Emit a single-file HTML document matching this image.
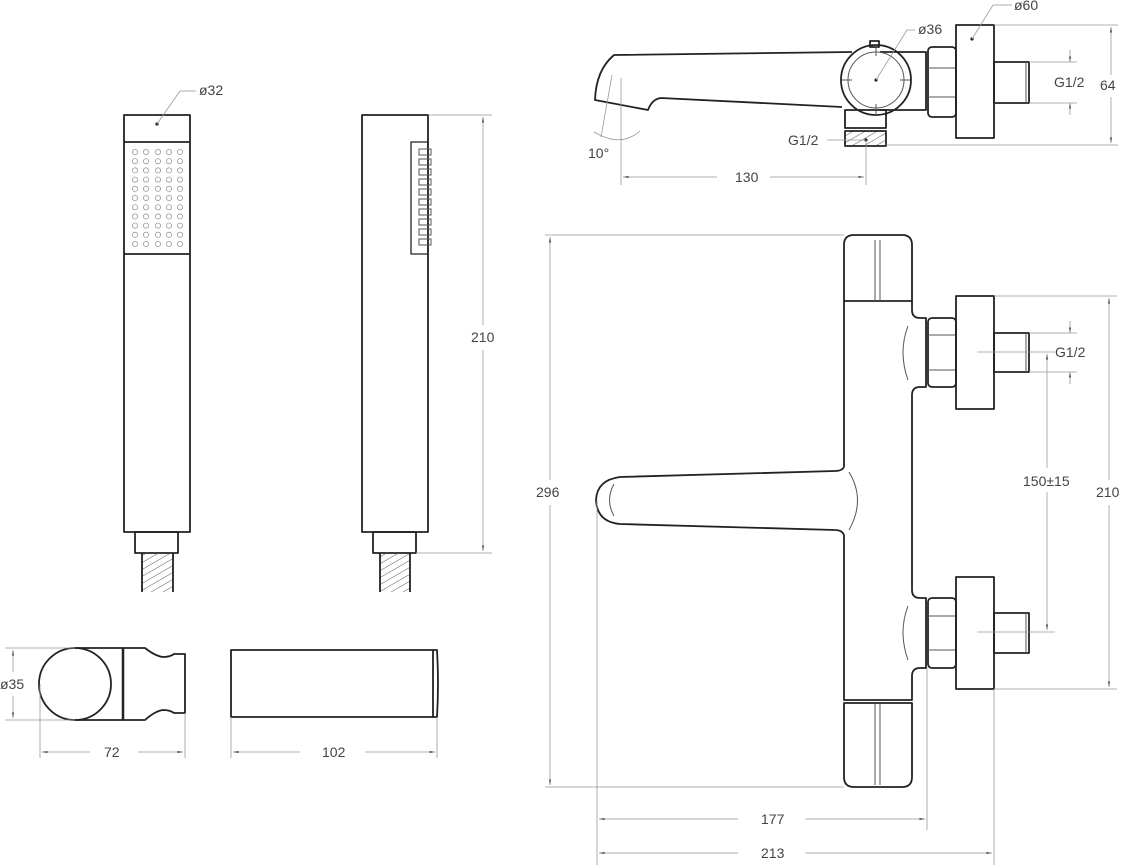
<!DOCTYPE html>
<html><head><meta charset="utf-8"><style>
html,body{margin:0;padding:0;background:#fff}
svg{display:block}
text{font-family:"Liberation Sans",sans-serif;font-size:14px;fill:#444}
.m{fill:none;stroke:#222;stroke-width:1.8;stroke-linejoin:round}
.t{fill:none;stroke:#555;stroke-width:1}
.d{fill:none;stroke:#999;stroke-width:0.8}
.dot{fill:none;stroke:#999;stroke-width:0.8}
</style></head><body>
<svg width="1121" height="865" viewBox="0 0 1121 865" xmlns="http://www.w3.org/2000/svg">
<defs>
<marker id="a" viewBox="0 0 10 10" refX="10" refY="5" markerWidth="7" markerHeight="7" orient="auto-start-reverse"><path d="M0,3 L10,5 L0,7z" fill="#555"/></marker>
<pattern id="h" width="6" height="6" patternUnits="userSpaceOnUse" patternTransform="rotate(-30)"><line x1="0" y1="0" x2="6" y2="0" stroke="#555" stroke-width="1"/></pattern>
</defs>

<!-- ===== Hand shower front ===== -->
<rect class="m" x="124" y="115" width="66" height="417"/>
<line class="m" x1="124" y1="142" x2="190" y2="142"/>
<line class="m" x1="124" y1="254" x2="190" y2="254"/>
<rect class="m" x="135" y="532" width="43" height="21"/>
<rect x="142" y="553" width="31" height="39" fill="url(#h)"/>
<line class="m" x1="142" y1="553" x2="142" y2="592"/><line class="m" x1="173" y1="553" x2="173" y2="592"/>
<circle cx="157" cy="124" r="1.6" fill="#222"/>
<polyline class="d" points="157,124 180,91 196,91"/>
<text x="199" y="95">ø32</text>

<!-- ===== Hand shower side ===== -->
<rect class="m" x="362" y="115" width="66" height="417"/>
<rect class="m" x="411" y="142" width="17" height="112" style="stroke-width:1.3"/>
<rect class="m" x="373" y="532" width="43" height="21"/>
<rect x="380" y="553" width="30" height="39" fill="url(#h)"/>
<line class="m" x1="380" y1="553" x2="380" y2="592"/><line class="m" x1="410" y1="553" x2="410" y2="592"/>
<line class="d" x1="428" y1="115" x2="492" y2="115"/>
<line class="d" x1="416" y1="553" x2="492" y2="553"/>
<line class="d" x1="483" y1="117" x2="483" y2="325" marker-start="url(#a)"/>
<line class="d" x1="483" y1="350" x2="483" y2="551" marker-end="url(#a)"/>
<text x="471" y="342">210</text>

<!-- ===== Holder ===== -->
<circle class="m" cx="75" cy="684" r="36"/>
<path class="m" d="M75,648 L123,648 M75,720 L123,720"/>
<line x1="123" y1="648" x2="123" y2="720" stroke="#222" stroke-width="2.5"/>
<path class="m" d="M123,648 L145,648 Q155,656 163,657 Q170,657 174,654 L185,654 L185,713 L174,713 Q170,710 163,710 Q155,711 145,720 L123,720"/>
<line class="d" x1="5" y1="648" x2="75" y2="648"/><line class="d" x1="5" y1="720" x2="75" y2="720"/>
<line class="d" x1="13" y1="650" x2="13" y2="672" marker-start="url(#a)"/>
<line class="d" x1="13" y1="696" x2="13" y2="718" marker-end="url(#a)"/>
<text x="0" y="689">ø35</text>
<line class="d" x1="40" y1="684" x2="40" y2="758"/><line class="d" x1="185" y1="713" x2="185" y2="758"/>
<line class="d" x1="42" y1="752" x2="90" y2="752" marker-start="url(#a)"/>
<line class="d" x1="138" y1="752" x2="183" y2="752" marker-end="url(#a)"/>
<text x="104" y="757">72</text>

<rect class="m" x="231" y="650" width="202" height="67"/>
<path class="m" d="M433,650 L437,650 Q439,683 437,717 L433,717"/>
<line class="d" x1="231" y1="717" x2="231" y2="758"/><line class="d" x1="437" y1="717" x2="437" y2="758"/>
<line class="d" x1="233" y1="752" x2="300" y2="752" marker-start="url(#a)"/>
<line class="d" x1="365" y1="752" x2="435" y2="752" marker-end="url(#a)"/>
<text x="322" y="757">102</text>

<!-- ===== Top view ===== -->
<path class="m" d="M842,107 L661,98 Q652,99 648,110 L595,100 Q596,70 614,55 L852,52"/>
<rect class="m" x="870" y="41" width="9" height="6"/>
<path class="m" d="M880,52 L926,52 L926,110 L880,110"/>
<rect class="m" x="845" y="110" width="41" height="18"/>
<rect x="845" y="131" width="41" height="15" fill="url(#h)"/>
<rect class="m" x="845" y="131" width="41" height="15"/>
<circle class="m" cx="876" cy="80" r="35" fill="#fff"/>
<circle class="t" cx="876" cy="80" r="28"/>
<path class="t" d="M876,45 L876,56 M876,104 L876,115 M841,80 L852,80 M900,80 L911,80"/>
<rect class="m" x="928" y="47" width="28" height="70" rx="4"/>
<path class="t" d="M928,68 L956,68 M928,97 L956,97"/>
<rect class="m" x="956" y="25" width="38" height="113"/>
<rect class="m" x="994" y="62" width="35" height="41"/>
<line class="t" x1="1026" y1="62" x2="1026" y2="103"/>
<circle cx="876" cy="80" r="1.6" fill="#222"/>
<polyline class="d" points="876,80 907,30 915,30"/>
<text x="918" y="34">ø36</text>
<circle cx="972" cy="39" r="1.6" fill="#222"/>
<polyline class="d" points="972,39 993,5 1012,5"/>
<text x="1014" y="10">ø60</text>
<line class="d" x1="994" y1="25" x2="1118" y2="25"/>
<line class="d" x1="886" y1="145" x2="1118" y2="145"/>
<line class="d" x1="1111" y1="27" x2="1111" y2="75" marker-start="url(#a)"/>
<line class="d" x1="1111" y1="97" x2="1111" y2="143" marker-end="url(#a)"/>
<text x="1100" y="90">64</text>
<line class="d" x1="1029" y1="62" x2="1077" y2="62"/><line class="d" x1="1029" y1="103" x2="1077" y2="103"/>
<line class="d" x1="1070" y1="50" x2="1070" y2="62" marker-end="url(#a)"/>
<line class="d" x1="1070" y1="115" x2="1070" y2="103" marker-end="url(#a)"/>
<text x="1054" y="87">G1/2</text>
<circle cx="866" cy="140" r="1.6" fill="#222"/>
<line class="d" x1="827" y1="140" x2="864" y2="140"/>
<text x="788" y="145">G1/2</text>
<line class="d" x1="621" y1="78" x2="621" y2="185"/>
<line class="d" x1="866" y1="140" x2="866" y2="185"/>
<line class="d" x1="612" y1="75" x2="601" y2="137"/>
<path class="d" d="M594,132 Q621,148 640,131"/>
<text x="588" y="158">10°</text>
<line class="d" x1="623" y1="177" x2="717" y2="177" marker-start="url(#a)"/>
<line class="d" x1="770" y1="177" x2="864" y2="177" marker-end="url(#a)"/>
<text x="735" y="182">130</text>

<!-- ===== Front view mixer ===== -->
<path class="m" d="M844,467 L844,245 Q844,235 854,235 L902,235 Q912,235 912,245 L912,310 Q912,318 920,318 L926,318 L926,387 L920,387 Q912,387 912,395 L912,590 Q912,598 920,598 L926,598 L926,668 L920,668 Q912,668 912,676 L912,700 L844,700 L844,535"/>
<line class="m" x1="844" y1="301" x2="912" y2="301"/>
<path class="t" d="M875,240 L875,301 M880,240 L880,301"/>
<path class="m" d="M844,703 L912,703 L912,777 Q912,787 902,787 L854,787 Q844,787 844,777 Z"/>
<path class="t" d="M875,703 L875,785 M880,703 L880,785"/>
<path class="m" d="M844,467 Q842,471 835,471 L620,477 Q597,480 596,500 Q597,522 620,524 L835,530 Q842,530 844,535"/>
<path class="t" d="M614,484 Q605,500 614,516"/>
<path class="t" d="M849,472 Q866,500 849,530"/>
<path class="t" d="M908,326 Q898,352 908,380"/>
<path class="t" d="M908,606 Q898,632 908,660"/>
<rect class="m" x="928" y="318" width="28" height="69" rx="4"/>
<path class="t" d="M928,335 L956,335 M928,370 L956,370"/>
<rect class="m" x="956" y="296" width="38" height="113"/>
<rect class="m" x="994" y="333" width="35" height="39"/>
<line class="t" x1="1026" y1="333" x2="1026" y2="372"/>
<rect class="m" x="928" y="598" width="28" height="70" rx="4"/>
<path class="t" d="M928,616 L956,616 M928,650 L956,650"/>
<rect class="m" x="956" y="577" width="38" height="112"/>
<rect class="m" x="994" y="613" width="35" height="40"/>
<line class="t" x1="1026" y1="613" x2="1026" y2="653"/>

<!-- dims -->
<line class="d" x1="545" y1="235" x2="844" y2="235"/>
<line class="d" x1="545" y1="787" x2="844" y2="787"/>
<line class="d" x1="550" y1="237" x2="550" y2="480" marker-start="url(#a)"/>
<line class="d" x1="550" y1="505" x2="550" y2="785" marker-end="url(#a)"/>
<text x="536" y="497">296</text>
<line class="d" x1="597" y1="500" x2="597" y2="865"/>
<line class="d" x1="927" y1="668" x2="927" y2="830"/>
<line class="d" x1="994" y1="689" x2="994" y2="865"/>
<line class="d" x1="599" y1="819" x2="738" y2="819" marker-start="url(#a)"/>
<line class="d" x1="805" y1="819" x2="925" y2="819" marker-end="url(#a)"/>
<text x="761" y="824">177</text>
<line class="d" x1="599" y1="853" x2="738" y2="853" marker-start="url(#a)"/>
<line class="d" x1="805" y1="853" x2="992" y2="853" marker-end="url(#a)"/>
<text x="761" y="858">213</text>
<line class="d" x1="994" y1="296" x2="1117" y2="296"/>
<line class="d" x1="994" y1="689" x2="1117" y2="689"/>
<line class="d" x1="1109" y1="298" x2="1109" y2="480" marker-start="url(#a)"/>
<line class="d" x1="1109" y1="505" x2="1109" y2="687" marker-end="url(#a)"/>
<text x="1096" y="497">210</text>
<line class="d" x1="977" y1="352" x2="1055" y2="352"/>
<line class="d" x1="977" y1="632" x2="1055" y2="632"/>
<line class="d" x1="1047" y1="354" x2="1047" y2="468" marker-start="url(#a)"/>
<line class="d" x1="1047" y1="492" x2="1047" y2="630" marker-end="url(#a)"/>
<text x="1023" y="486">150±15</text>
<line class="d" x1="1029" y1="333" x2="1077" y2="333"/><line class="d" x1="1029" y1="372" x2="1077" y2="372"/>
<line class="d" x1="1070" y1="321" x2="1070" y2="333" marker-end="url(#a)"/>
<line class="d" x1="1070" y1="384" x2="1070" y2="372" marker-end="url(#a)"/>
<text x="1055" y="357">G1/2</text>

<!-- dots grid -->
<g class="dot">
<g id="row">
<circle cx="135" cy="152" r="2.6"/><circle cx="146" cy="152" r="2.6"/><circle cx="158" cy="152" r="2.6"/><circle cx="169" cy="152" r="2.6"/><circle cx="180" cy="152" r="2.6"/>
</g>
<use href="#row" y="9.2"/><use href="#row" y="18.4"/><use href="#row" y="27.6"/><use href="#row" y="36.8"/><use href="#row" y="46"/><use href="#row" y="55.2"/><use href="#row" y="64.4"/><use href="#row" y="73.6"/><use href="#row" y="82.8"/><use href="#row" y="92"/>
</g>
<g class="t">
<rect id="tooth" x="419" y="149" width="12" height="6"/>
<use href="#tooth" y="10"/><use href="#tooth" y="20"/><use href="#tooth" y="30"/><use href="#tooth" y="40"/><use href="#tooth" y="50"/><use href="#tooth" y="60"/><use href="#tooth" y="70"/><use href="#tooth" y="80"/><use href="#tooth" y="90"/>
</g>
</svg>
</body></html>
